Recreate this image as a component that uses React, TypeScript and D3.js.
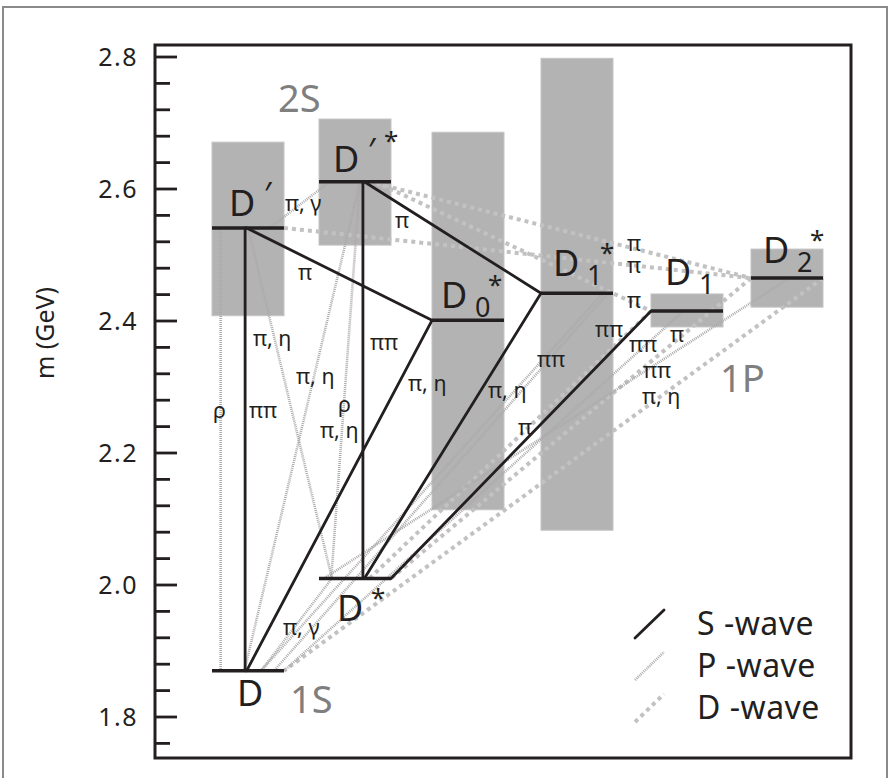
import React from "react";
import * as d3 from "d3";

// Charm-meson levels: name, column on the diagram, mass (GeV)
const STATES = ["D", "D*", "D′", "D′*", "D0*", "D1*", "D1", "D2*"];
const COLUMN = [0, 1, 0, 1, 2, 3, 4, 5];
const MASS = [1.87, 2.01, 2.541, 2.611, 2.401, 2.442, 2.415, 2.465];

// Shaded mass windows of the excited states (GeV)
const BOX_STATES = ["D′", "D′*", "D0*", "D1*", "D1", "D2*"];
const BOX_LOW = [2.408, 2.515, 2.114, 2.083, 2.391, 2.421];
const BOX_HIGH = [2.671, 2.706, 2.686, 2.798, 2.441, 2.509];

// Level label pieces
const LABEL_SUB = ["", "", "", "", "0", "1", "1", "2"];
const LABEL_PRIME = [false, false, true, true, false, false, false, false];
const LABEL_STAR = [false, true, false, true, true, true, false, true];

// Transitions: [from, position along level, to, position along level]
const S_WAVE: [string, number, string, number][] = [
  ["D′", 0.46, "D", 0.46],
  ["D′", 0.48, "D0*", 0],
  ["D′*", 0.61, "D*", 0.61],
  ["D′*", 0.63, "D1*", 0],
  ["D0*", 0, "D", 0.48],
  ["D1*", 0, "D*", 0.63],
  ["D1", 0, "D*", 1],
];
const P_WAVE: [string, number, string, number][] = [
  ["D′", 0.12, "D", 0.12],
  ["D′", 0.5, "D*", 0.18],
  ["D′*", 0.57, "D", 0.45],
  ["D′*", 0.57, "D*", 0.17],
  ["D′*", 0.15, "D′", 0.8],
  ["D*", 0.18, "D", 0.68],
  ["D1*", 0.86, "D", 0.68],
  ["D1*", 0.93, "D", 0.86],
  ["D1", 0.45, "D", 1.0],
  ["D2*", 0.53, "D*", 0.07],
];
const D_WAVE: [string, number, string, number][] = [
  ["D′*", 0.7, "D2*", 0],
  ["D′", 1.0, "D2*", 0],
  ["D′*", 0.78, "D1", 0],
  ["D2*", 1.0, "D", 1.0],
  ["D2*", 0, "D*", 1.0],
  ["D1", 0, "D*", 0.7],
];

// Emitted particles: [text, column coordinate, mass]
const DECAY_LABELS: [string, number, number][] = [
  ["π, γ", 0.682, 2.567],
  ["π", 1.673, 2.541],
  ["π", 0.804, 2.462],
  ["π, η", 0.383, 2.362],
  ["π, η", 0.785, 2.305],
  ["ρ", 0.009, 2.253],
  ["ππ", 0.346, 2.253],
  ["ρ", 1.168, 2.262],
  ["π, η", 1.009, 2.223],
  ["ππ", 1.451, 2.356],
  ["π, η", 1.788, 2.294],
  ["π, η", 2.514, 2.283],
  ["ππ", 2.963, 2.33],
  ["π", 2.789, 2.227],
  ["ππ", 3.927, 2.313],
  ["π, η", 3.918, 2.274],
  ["ππ", 3.491, 2.376],
  ["ππ", 3.8, 2.353],
  ["π", 4.19, 2.368],
  ["π", 3.782, 2.506],
  ["π", 3.782, 2.473],
  ["π", 3.782, 2.42],
  ["π, γ", 0.664, 1.924],
];

// Multiplet names: [text, column coordinate, mass]
const MULTIPLETS: [string, number, number][] = [
  ["2S", 0.617, 2.717],
  ["1S", 0.729, 1.806],
  ["1P", 4.69, 2.292],
];

const Y_TICKS = [1.8, 2.0, 2.2, 2.4, 2.6, 2.8];
const LEGEND = ["S -wave", "P -wave", "D -wave"];

const W = 890;
const H = 778;
const FRAME = { left: 155, top: 45, right: 851, bottom: 758 };
const LEVEL_W = 72;
const INK = "#231f20";
const FONT = "'Noto Sans', 'DejaVu Sans', sans-serif";

const y = d3.scaleLinear().domain([1.8, 2.8]).range([717, 57]);
const x = d3.scaleLinear().domain([0, 1, 2, 3, 4, 5]).range([212, 319, 432, 541, 651, 751]);

const idx = (name: string) => STATES.indexOf(name);
const lvlX = (name: string, f: number) => x(COLUMN[idx(name)]) + f * LEVEL_W;
const lvlY = (name: string) => y(MASS[idx(name)]);

// label placement relative to the level's left end and its line
const LABEL_DX = [25, 18, 17, 14, 9, 12, 14, 12];
const LABEL_DY = [35, 43, -12, -10, -12, -17, -26, -15];

function TransitionLines({ list, style }: { list: [string, number, string, number][]; style: any }) {
  return (
    <g>
      {list.map(([a, fa, b, fb], i) => (
        <line key={i} x1={lvlX(a, fa)} y1={lvlY(a)} x2={lvlX(b, fb)} y2={lvlY(b)} {...style} />
      ))}
    </g>
  );
}

const S_STYLE = { stroke: INK, strokeWidth: 2.8, strokeLinecap: "round" };
const P_STYLE = { stroke: "#aaaaaa", strokeWidth: 2.6, strokeDasharray: "1 1" };
const D_STYLE = { stroke: "#c2c2c2", strokeWidth: 4, strokeDasharray: "4 4" };

export default function App() {
  const minorTicks = d3.range(1.76, 2.81, 0.04);
  const legendY = [624, 666, 708];
  const legendStyles = [S_STYLE, P_STYLE, D_STYLE];

  return (
    <svg
      width={W}
      height={H}
      viewBox={`0 0 ${W} ${H}`}
      style={{ position: "absolute", left: 0, top: 0, background: "#fff", fontFamily: FONT }}
    >
      <rect x={3} y={7} width={884} height={790} fill="none" stroke="#8a8a8a" strokeWidth={2} />

      {/* mass windows */}
      {BOX_STATES.map((s, i) => {
        const x0 = x(COLUMN[idx(s)]);
        return (
          <rect
            key={s}
            x={x0}
            y={y(BOX_HIGH[i])}
            width={LEVEL_W}
            height={y(BOX_LOW[i]) - y(BOX_HIGH[i])}
            fill="#b3b3b3"
            stroke="#c4c4c4"
            strokeWidth={1}
          />
        );
      })}

      <TransitionLines list={D_WAVE} style={D_STYLE} />
      <TransitionLines list={P_WAVE} style={P_STYLE} />
      <TransitionLines list={S_WAVE} style={S_STYLE} />

      {/* levels */}
      {STATES.map((s) => (
        <line key={s} x1={lvlX(s, 0)} x2={lvlX(s, 1)} y1={lvlY(s)} y2={lvlY(s)} stroke={INK} strokeWidth={3.5} />
      ))}

      {/* level names */}
      {STATES.map((s, i) => {
        const bx = lvlX(s, 0) + LABEL_DX[i];
        const by = lvlY(s) + LABEL_DY[i];
        const hasSub = LABEL_SUB[i] !== "";
        return (
          <g key={s} fill={INK}>
            <text x={bx} y={by} fontSize={36}>D</text>
            {hasSub && (
              <text x={bx + 34} y={by + 9} fontSize={27}>{LABEL_SUB[i]}</text>
            )}
            {LABEL_PRIME[i] && (
              <text x={bx + 35} y={by - 10} fontSize={32}>′</text>
            )}
            {LABEL_STAR[i] && (
              <text x={bx + (hasSub ? 47 : LABEL_PRIME[i] ? 51 : 34)} y={by - (LABEL_PRIME[i] ? 22 : 14)} fontSize={26}>*</text>
            )}
          </g>
        );
      })}

      {/* emitted particles */}
      {DECAY_LABELS.map(([t, c, m], i) => (
        <text key={i} x={x(c)} y={y(m)} fontSize={21.5} fill={INK}>{t}</text>
      ))}

      {MULTIPLETS.map(([t, c, m]) => (
        <text key={t} x={x(c)} y={y(m)} fontSize={38} fill="#7f7f7f">{t}</text>
      ))}

      {/* axis frame */}
      <rect
        x={FRAME.left}
        y={FRAME.top}
        width={FRAME.right - FRAME.left}
        height={FRAME.bottom - FRAME.top}
        fill="none"
        stroke={INK}
        strokeWidth={3}
      />
      {minorTicks.map((t) => {
        const major = Y_TICKS.some((v) => Math.abs(v - t) < 1e-6);
        return (
          <line key={t} x1={FRAME.left} x2={FRAME.left + (major ? 22 : 15)} y1={y(t)} y2={y(t)} stroke={INK} strokeWidth={2.8} />
        );
      })}
      {Y_TICKS.map((t) => (
        <text key={t} x={138} y={y(t) + 8.5} fontSize={25} textAnchor="end" fill={INK} letterSpacing={1.5}>
          {d3.format(".1f")(t)}
        </text>
      ))}
      <text transform={`translate(54, 333) rotate(-90)`} fontSize={25} textAnchor="middle" fill={INK}>
        m (GeV)
      </text>

      {/* legend */}
      {LEGEND.map((t, i) => (
        <g key={t}>
          <line x1={635} x2={664} y1={legendY[i] + 14} y2={legendY[i] - 14} {...legendStyles[i]} />
          <text x={697} y={legendY[i] + 11} fontSize={32} fill={INK} letterSpacing={0.5}>{t}</text>
        </g>
      ))}
    </svg>
  );
}
